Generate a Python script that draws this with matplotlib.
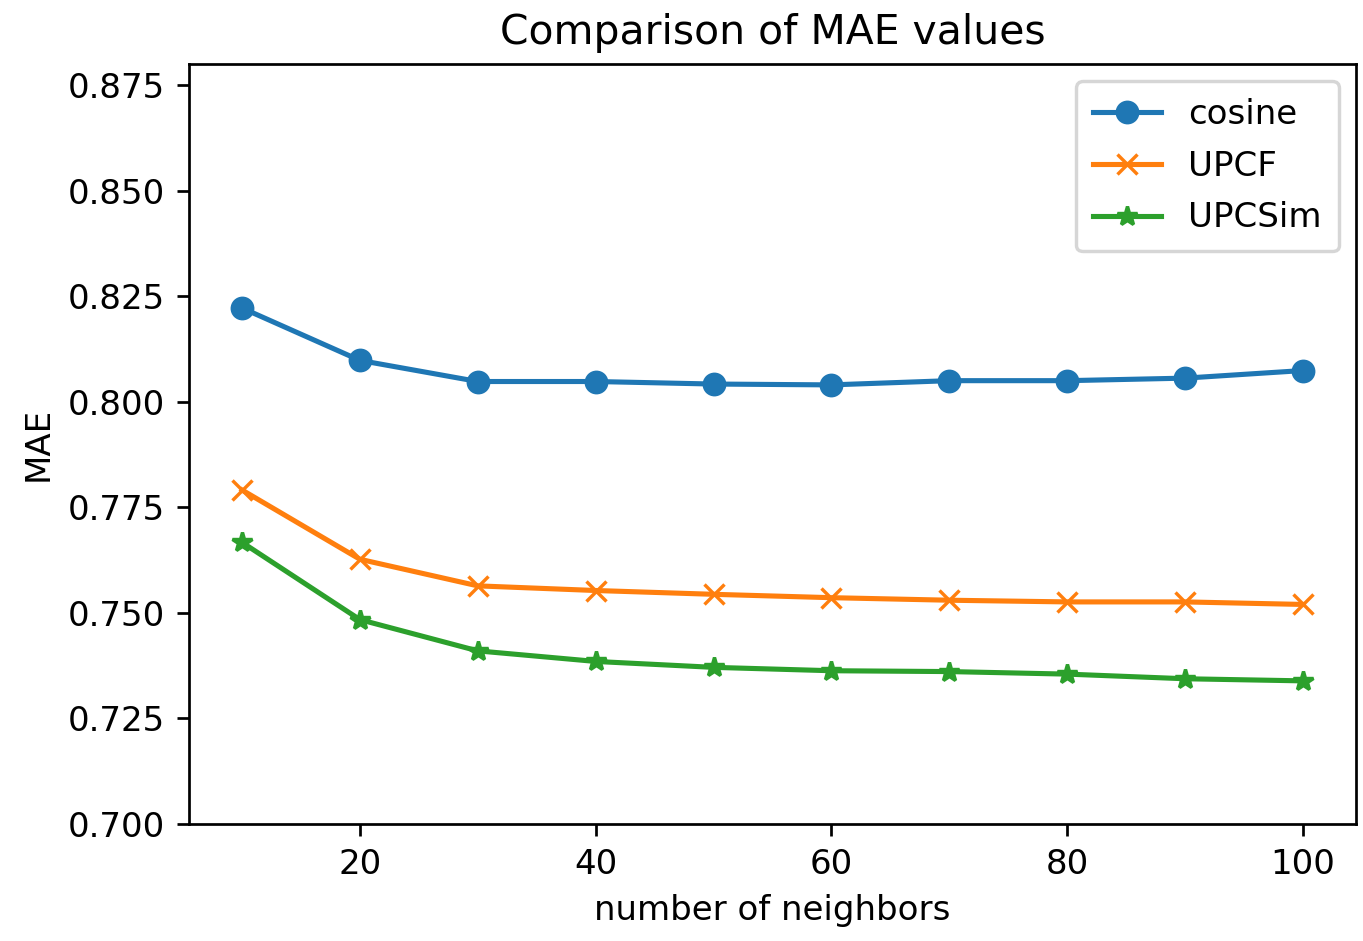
import matplotlib
matplotlib.use("Agg")
import matplotlib.pyplot as plt

# number of neighbors (k) evaluated
neighbors = [10, 20, 30, 40, 50, 60, 70, 80, 90, 100]

# MAE for each similarity measure
mae_cosine = [0.8222, 0.8098, 0.8048, 0.8048, 0.8042, 0.8040, 0.8050, 0.8050, 0.8056, 0.8074]
mae_upcf = [0.7791, 0.7627, 0.7564, 0.7553, 0.7544, 0.7536, 0.7530, 0.7526, 0.7526, 0.7520]
mae_upcsim = [0.7667, 0.7484, 0.7410, 0.7385, 0.7371, 0.7363, 0.7361, 0.7355, 0.7344, 0.7339]

series_labels = ["cosine", "UPCF", "UPCSim"]

# scale factor so the default matplotlib look holds at this output size
s = 2.45
plt.rcParams.update({
    "font.family": "DejaVu Sans",
    "font.size": 10 * s,
    "axes.titlesize": 12 * s,
    "axes.labelsize": 10 * s,
    "axes.linewidth": 0.8 * s,
    "axes.titlepad": 6 * s,
    "axes.labelpad": 4 * s,
    "xtick.major.size": 3.5 * s,
    "ytick.major.size": 3.5 * s,
    "xtick.major.width": 0.8 * s,
    "ytick.major.width": 0.8 * s,
    "xtick.major.pad": 3.5 * s,
    "ytick.major.pad": 3.5 * s,
    "lines.linewidth": 1.5 * s,
    "lines.markersize": 6 * s,
    "lines.markeredgewidth": 1.0 * s,
    "legend.fontsize": 10 * s,
    "legend.borderpad": 0.5,
    "legend.labelspacing": 0.55,
    "patch.linewidth": 1.0 * s,
})

W, H = 1363, 941
fig = plt.figure(figsize=(W / 100, H / 100), dpi=100)
ax = fig.add_axes([189 / W, 1 - 824 / H, (1356 - 189) / W, (824 - 64) / H])

ax.plot(neighbors, mae_cosine, marker="o", label=series_labels[0])
ax.plot(neighbors, mae_upcf, marker="x", label=series_labels[1])
ax.plot(neighbors, mae_upcsim, marker="*", label=series_labels[2])

ax.set_ylim(0.70, 0.88)
ax.set_yticks([0.700, 0.725, 0.750, 0.775, 0.800, 0.825, 0.850, 0.875])
ax.set_xticks([20, 40, 60, 80, 100])
ax.set_title("Comparison of MAE values")
ax.set_xlabel("number of neighbors")
ax.set_ylabel("MAE")
ax.legend(loc="upper right")

fig.savefig("out.png", dpi=100)
